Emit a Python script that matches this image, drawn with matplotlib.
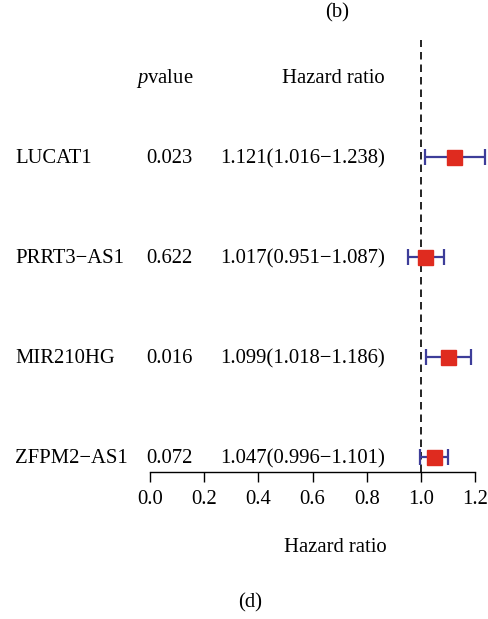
import matplotlib
matplotlib.use("Agg")
import matplotlib.pyplot as plt
from matplotlib.transforms import blended_transform_factory

genes = ["LUCAT1", "PRRT3\u2212AS1", "MIR210HG", "ZFPM2\u2212AS1"]
pvalues = ["0.023", "0.622", "0.016", "0.072"]
hr = [1.121, 1.017, 1.099, 1.047]
hr_low = [1.016, 0.951, 1.018, 0.996]
hr_high = [1.238, 1.087, 1.186, 1.101]
xticks = [0.0, 0.2, 0.4, 0.6, 0.8, 1.0, 1.2]

plt.rcParams['font.family'] = ['Liberation Serif', 'DejaVu Serif']
plt.rcParams['mathtext.fontset'] = 'custom'
plt.rcParams['mathtext.rm'] = 'Liberation Serif'
plt.rcParams['mathtext.it'] = 'Liberation Serif:italic'

W, H = 489, 619
fig = plt.figure(figsize=(W / 100, H / 100), dpi=100)
fs = 14.9

ax_left, ax_right = 150, 475
ax_top, ax_bottom = 40, 472
ax = fig.add_axes([ax_left / W, 1 - ax_bottom / H, (ax_right - ax_left) / W, (ax_bottom - ax_top) / H])
n = len(genes)
ys = [n - i for i in range(n)]
ax.set_xlim(0, 1.2)
ax.set_ylim(0.85, n + 1.17)

ax.axvline(1.0, color='black', linestyle=(0, (4.5, 3)), linewidth=1.2, clip_on=False)

for y, h, lo, hi in zip(ys, hr, hr_low, hr_high):
    ax.errorbar([h], [y], xerr=[[h - lo], [hi - h]], fmt='none', ecolor='#3d3d99',
                elinewidth=1.6, capsize=5.8, capthick=1.6, clip_on=False, zorder=3)
    ax.plot([h], [y], marker='s', markersize=10.8, color='#df2b1f', linestyle='none',
            clip_on=False, zorder=4)

for s in ['top', 'right', 'left']:
    ax.spines[s].set_visible(False)
ax.spines['bottom'].set_linewidth(1.0)
ax.set_yticks([])
ax.set_xticks(xticks)
ax.set_xticklabels([f"{t:.1f}" for t in xticks], fontsize=fs)
ax.tick_params(axis='x', direction='out', length=7.2, width=1.0, pad=6)

tr = blended_transform_factory(fig.transFigure, ax.transData)
ty = -0.015
for y, g, p, h, lo, hi in zip(ys, genes, pvalues, hr, hr_low, hr_high):
    ax.text(15 / W, y + ty, g, transform=tr, ha='left', va='center', fontsize=fs)
    ax.text(193 / W, y + ty, p, transform=tr, ha='right', va='center', fontsize=fs)
    ax.text(385 / W, y + ty, f"{h:.3f}({lo:.3f}\u2212{hi:.3f})", transform=tr, ha='right',
            va='center', fontsize=fs)

hy = n + 0.79
ax.text(193 / W, hy, r"$\mathit{p}$value", transform=tr, ha='right', va='center', fontsize=fs)
ax.text(385 / W, hy, "Hazard ratio", transform=tr, ha='right', va='center', fontsize=fs)

fig.text(335 / W, 1 - 548 / H, "Hazard ratio", ha='center', va='center', fontsize=fs)
fig.text(337 / W, 1 - 13 / H, "(b)", ha='center', va='center', fontsize=fs)
fig.text(250 / W, 1 - 603 / H, "(d)", ha='center', va='center', fontsize=fs)

fig.savefig("out.png", dpi=100)
